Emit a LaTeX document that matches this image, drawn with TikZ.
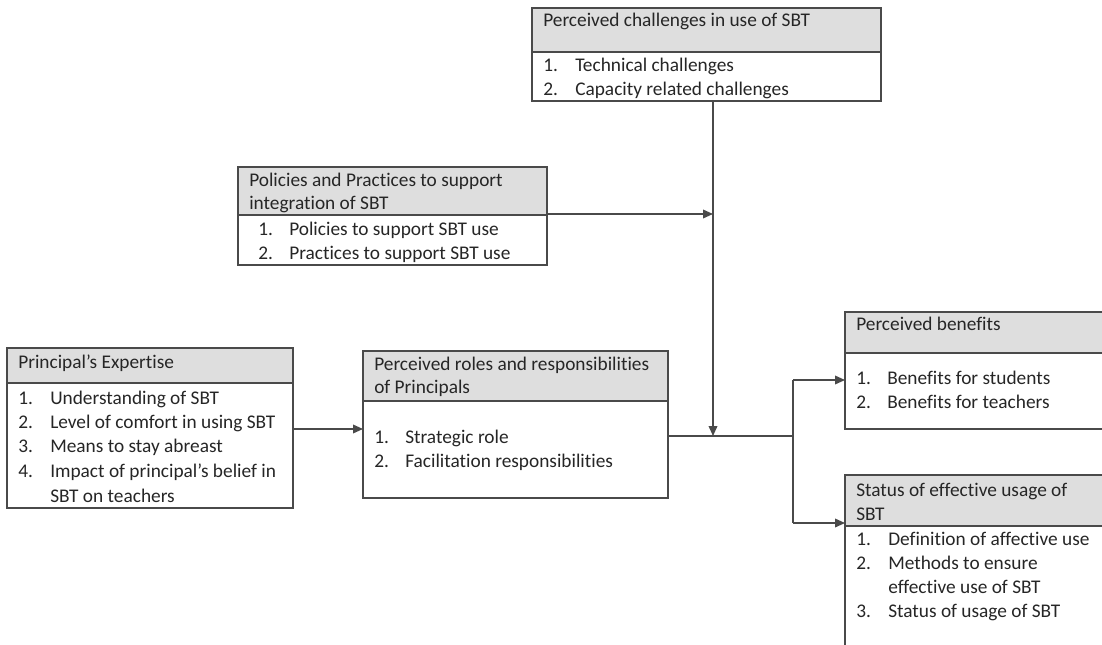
\documentclass[tikz,border=0pt]{standalone}
\usepackage{fontspec}
\setmainfont[Ligatures=NoCommon]{Carlito}
\usetikzlibrary{arrows.meta}
\definecolor{lc}{HTML}{4A4A4A}
\definecolor{hf}{HTML}{DEDEDE}
\definecolor{tc}{HTML}{262626}
\tikzset{
  x=0.75pt, y=-0.75pt,
  boxbody/.style={draw=lc, line width=1.1pt, fill=white, anchor=north west, inner sep=0, outer sep=0},
  boxhead/.style={draw=lc, line width=1.1pt, fill=hf, anchor=north west, inner sep=0, outer sep=0},
  txt/.style={anchor=base west, inner sep=0, text=tc, font=\fontsize{14.5}{17}\selectfont},
  conn/.style={draw=lc, line width=1.1pt},
  arr/.style={conn, -{Triangle[length=7.5pt,width=6.5pt]}}
}
\newcommand{\boxat}[6]{% name, x1, y1, x2, y2, yheader
  \node[boxbody, minimum width={(#4-#2)*0.75pt}, minimum height={(#5-#3)*0.75pt}] (#1) at (#2,#3) {};
  \node[boxhead, minimum width={(#4-#2)*0.75pt}, minimum height={(#6-#3)*0.75pt}] (#1-h) at (#2,#3) {};
}
\begin{document}
\begin{tikzpicture}
\useasboundingbox (0,0) rectangle (1102,645);
\clip (0,0) rectangle (1102,645);
\fill[white] (0,0) rectangle (1102,645);

% Perceived challenges
\boxat{ch}{532}{8}{881}{101}{52}
\node[txt] (ch-t) at (543,27) {Perceived challenges in use of SBT};
\node[txt] (ch-n1) at (543,72) {1.};
\node[txt] (ch-i1) at (575,72) {Technical challenges};
\node[txt] (ch-n2) at (543,96) {2.};
\node[txt] (ch-i2) at (575,96) {Capacity related challenges};

% Policies and practices
\boxat{pol}{238}{167}{547}{265}{215}
\node[txt] (pol-t1) at (249,187) {Policies and Practices to support};
\node[txt] (pol-t2) at (249,210) {integration of SBT};
\node[txt] (pol-n1) at (258,236) {1.};
\node[txt] (pol-i1) at (289,236) {Policies to support SBT use};
\node[txt] (pol-n2) at (258,259) {2.};
\node[txt] (pol-i2) at (289,259) {Practices to support SBT use};

% Principal's expertise
\boxat{exp}{7}{348}{293}{508}{383}
\node[txt] (exp-t) at (18,368) {Principal’s Expertise};
\node[txt] (exp-n1) at (18,404) {1.};
\node[txt] (exp-i1) at (50,404) {Understanding of SBT};
\node[txt] (exp-n2) at (18,428) {2.};
\node[txt] (exp-i2) at (50,428) {Level of comfort in using SBT};
\node[txt] (exp-n3) at (18,452) {3.};
\node[txt] (exp-i3) at (50,452) {Means to stay abreast};
\node[txt] (exp-n4) at (18,477) {4.};
\node[txt] (exp-i4) at (50,477) {Impact of principal’s belief in};
\node[txt] (exp-i5) at (50,502) {SBT on teachers};

% Roles and responsibilities
\boxat{rol}{363}{351}{668}{498}{401}
\node[txt] (rol-t1) at (374,370) {Perceived roles and responsibilities};
\node[txt] (rol-t2) at (374,393) {of Principals};
\node[txt] (rol-n1) at (374,443) {1.};
\node[txt] (rol-i1) at (405,443) {Strategic role};
\node[txt] (rol-n2) at (374,467) {2.};
\node[txt] (rol-i2) at (405,467) {Facilitation responsibilities};

% Perceived benefits
\boxat{ben}{845}{312}{1125}{429}{353}
\node[txt] (ben-t) at (856,330) {Perceived benefits};
\node[txt] (ben-n1) at (856,384) {1.};
\node[txt] (ben-i1) at (887,384) {Benefits for students};
\node[txt] (ben-n2) at (856,408) {2.};
\node[txt] (ben-i2) at (887,408) {Benefits for teachers};

% Status of effective usage
\boxat{sta}{845}{475}{1125}{680}{526}
\node[txt] (sta-t1) at (856,496) {Status of effective usage of};
\node[txt] (sta-t2) at (856,520) {SBT};
\node[txt] (sta-n1) at (856,545) {1.};
\node[txt] (sta-i1) at (888,545) {Definition of affective use};
\node[txt] (sta-n2) at (856,569) {2.};
\node[txt] (sta-i2) at (888,569) {Methods to ensure};
\node[txt] (sta-i3) at (888,593) {effective use of SBT};
\node[txt] (sta-n3) at (856,617) {3.};
\node[txt] (sta-i4) at (888,617) {Status of usage of SBT};

% connectors
\coordinate (J) at (713,436);
\coordinate (br) at (793,436);
\coordinate (b1) at (793,380);
\coordinate (b2) at (793,523);

\draw[arr] (J |- ch.south) -- (J);
\draw[arr] (pol.east |- 0,214) -- (J |- 0,214);
\draw[arr] (exp.east |- 0,429) -- (rol.west |- 0,429);
\draw[conn] (rol.east |- br) -- (br);
\draw[conn] (b1) -- (b2);
\draw[arr] (b1) -- (b1 -| ben.west);
\draw[arr] (b2) -- (b2 -| sta.west);
\end{tikzpicture}
\end{document}
